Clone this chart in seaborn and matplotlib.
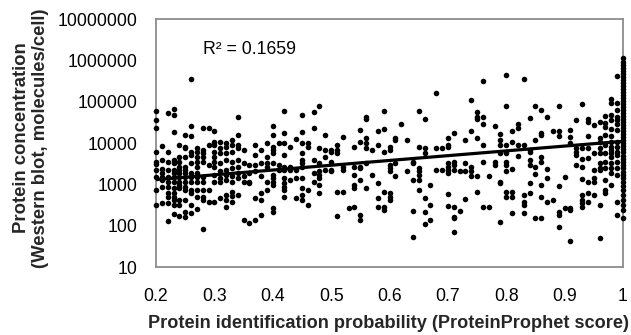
import matplotlib
matplotlib.use("Agg")
import matplotlib.pyplot as plt
import seaborn as sns
from matplotlib.ticker import FixedLocator, NullLocator

# ProteinProphet score (x) of each protein
score = [
 0.20,0.20,0.20,0.20,0.20,0.20,0.20,0.20,0.20,0.20,
 0.21,0.21,0.21,0.21,0.21,0.21,0.21,0.21,
 0.22,0.22,0.22,0.22,0.22,0.22,0.22,0.22,0.22,0.22,0.22,
 0.23,0.23,0.23,0.23,0.23,0.23,0.23,0.23,0.23,0.23,0.23,0.23,0.23,0.23,0.23,
 0.24,0.24,0.24,0.24,0.24,0.24,0.24,0.24,0.24,0.24,0.24,0.24,0.24,
 0.25,0.25,0.25,0.25,0.25,0.25,0.25,0.25,0.25,0.25,0.25,0.25,0.25,0.25,
 0.26,0.26,0.26,0.26,0.26,0.26,0.26,0.26,0.26,0.26,0.26,0.26,0.26,
 0.27,0.27,0.27,0.27,0.27,0.27,0.27,0.27,0.27,0.27,0.27,
 0.28,0.28,0.28,0.28,0.28,0.28,0.28,0.28,0.28,0.28,0.28,
 0.29,0.29,0.29,0.29,0.29,
 0.30,0.30,0.30,0.30,0.30,0.30,0.30,0.30,0.30,0.30,
 0.31,0.31,0.31,0.31,0.31,0.31,0.31,0.31,
 0.32,0.32,0.32,0.32,0.32,0.32,0.32,0.32,0.32,0.32,
 0.33,0.33,0.33,0.33,0.33,0.33,0.33,0.33,0.33,0.33,
 0.34,0.34,0.34,0.34,0.34,0.34,0.34,0.34,0.34,
 0.35,0.35,0.35,0.35,0.35,
 0.36,0.36,0.36,0.36,0.36,
 0.37,0.37,0.37,0.37,0.37,0.37,
 0.38,0.38,0.38,0.38,0.38,0.38,
 0.39,0.39,0.39,0.39,0.39,0.39,
 0.40,0.40,0.40,0.40,0.40,0.40,0.40,0.40,0.40,0.40,0.40,0.40,
 0.41,0.41,0.41,
 0.42,0.42,0.42,0.42,0.42,0.42,0.42,0.42,0.42,0.42,0.42,
 0.43,0.43,0.43,0.43,
 0.44,0.44,0.44,0.44,
 0.45,0.45,0.45,0.45,0.45,0.45,0.45,0.45,0.45,0.45,0.45,
 0.46,0.46,0.46,0.46,
 0.47,0.47,0.47,0.47,0.47,
 0.48,0.48,0.48,0.48,0.48,0.48,0.48,0.48,
 0.49,0.49,0.49,0.49,
 0.50,0.50,0.50,0.50,0.50,
 0.51,0.51,0.51,0.51,0.51,
 0.52,0.52,0.52,0.52,
 0.53,
 0.54,0.54,0.54,0.54,0.54,0.54,
 0.55,0.55,0.55,0.55,0.55,0.55,0.55,
 0.56,0.56,0.56,0.56,0.56,0.56,0.56,
 0.57,0.57,
 0.58,0.58,0.58,0.58,0.58,
 0.59,0.59,0.59,0.59,0.59,0.59,
 0.60,0.60,0.60,0.60,0.60,0.60,0.60,0.60,
 0.61,0.61,0.61,0.61,
 0.62,
 0.63,0.63,
 0.64,0.64,0.64,0.64,0.64,
 0.65,0.65,0.65,0.65,0.65,0.65,0.65,
 0.66,0.66,0.66,0.66,0.66,0.66,
 0.67,0.67,0.67,
 0.68,0.68,0.68,
 0.69,0.69,
 0.70,0.70,0.70,0.70,0.70,0.70,0.70,0.70,0.70,
 0.71,0.71,0.71,0.71,0.71,0.71,0.71,0.71,
 0.72,0.72,
 0.73,0.73,0.73,0.73,
 0.74,0.74,0.74,0.74,0.74,
 0.75,0.75,0.75,0.75,0.75,0.75,
 0.76,0.76,0.76,0.76,0.76,0.76,
 0.77,0.77,
 0.78,0.78,0.78,
 0.79,0.79,0.79,0.79,0.79,0.79,0.79,
 0.80,0.80,0.80,0.80,0.80,0.80,0.80,0.80,0.80,
 0.81,0.81,0.81,0.81,0.81,0.81,
 0.82,0.82,0.82,0.82,
 0.83,0.83,0.83,0.83,0.83,0.83,
 0.84,0.84,0.84,0.84,0.84,0.84,0.84,
 0.85,0.85,0.85,0.85,0.85,
 0.86,0.86,0.86,0.86,0.86,0.86,0.86,0.86,
 0.87,0.87,0.87,0.87,
 0.88,0.88,
 0.89,0.89,0.89,0.89,0.89,0.89,0.89,
 0.90,0.90,
 0.91,0.91,0.91,0.91,0.91,0.91,
 0.92,0.92,0.92,0.92,0.92,
 0.93,0.93,0.93,0.93,0.93,0.93,0.93,0.93,0.93,
 0.94,0.94,0.94,0.94,0.94,0.94,0.94,0.94,
 0.95,0.95,0.95,0.95,0.95,0.95,
 0.96,0.96,0.96,0.96,0.96,0.96,0.96,0.96,0.96,0.96,
 0.97,0.97,0.97,0.97,0.97,0.97,0.97,0.97,0.97,0.97,0.97,
 0.98,0.98,0.98,0.98,0.98,0.98,0.98,0.98,0.98,0.98,0.98,0.98,0.98,0.98,0.98,
 0.99,0.99,0.99,0.99,0.99,0.99,0.99,0.99,0.99,0.99,0.99,0.99,0.99,0.99,0.99,0.99,
 1.00,1.00,1.00,1.00,1.00,1.00,1.00,1.00,1.00,1.00,1.00,1.00,1.00,1.00,1.00,1.00,
 1.00,1.00,1.00,1.00,1.00,1.00,1.00,1.00,1.00,1.00,1.00,1.00,1.00,1.00,1.00,1.00,
 1.00,1.00,1.00,1.00,1.00,1.00,1.00,1.00,1.00,1.00,1.00,1.00,1.00,1.00,1.00,1.00,
]

# Western blot concentration (molecules/cell), same order as score
conc = [
 58000,36000,23000,5900,3500,3100,2200,1500,730,315,
 8500,3900,2400,1850,1500,1280,880,350,
 52000,6200,3500,2200,1500,1170,880,610,500,350,129,
 67000,48000,18000,3900,3200,2200,1850,1500,1170,810,610,500,420,315,192,
 9000,4700,3500,2600,2200,1850,1500,1170,980,810,420,315,170,
 16000,8200,7400,4700,2600,2200,1850,1500,1170,880,730,420,218,165,
 350000,26000,14500,6200,5200,3200,1850,1500,1170,730,610,315,200,
 7400,6200,4700,3500,2600,1850,1500,1170,730,500,260,
 23000,6700,5700,4700,3500,1500,1170,730,500,420,81,
 23000,9000,2900,730,380,
 20000,10800,9000,6200,4700,3500,2700,1700,1170,380,
 10800,7400,5600,3200,2050,1400,1170,460,
 10200,8200,5600,3900,2250,1700,1280,550,420,280,
 12000,9000,6200,3500,2450,1550,1170,660,525,380,
 43000,16000,9000,7400,3900,2700,1850,1400,550,
 6700,3200,1550,1170,138,
 2900,1850,1170,1070,115,
 9000,5200,2900,2050,460,138,
 6700,3200,1550,610,420,182,
 10000,4700,3200,2700,1170,730,
 26000,16000,8200,6700,5600,3200,1700,1400,1170,970,265,220,
 10000,2900,2250,
 60000,17300,10000,5200,2700,2250,1400,1070,880,730,500,
 8200,2700,2250,1280,
 12500,2250,1400,460,
 48000,18000,10000,5600,3900,3200,2700,1400,810,550,420,
 10000,8200,730,315,
 56000,23000,3900,1850,1170,
 80000,7400,3200,2050,1700,1400,970,610,
 16000,6700,4700,2250,
 6700,6200,3500,2250,2050,
 9000,6700,5600,660,172,
 14000,2700,2250,660,
 265,
 8200,2700,1700,970,810,290,
 21000,10800,2700,2450,1280,182,138,
 43000,38000,13000,10000,7400,3200,810,
 6700,1700,
 19000,9000,1070,460,290,
 60000,21500,6200,660,280,240,
 8200,6700,2900,2450,2050,610,500,420,
 13000,12000,3200,1550,
 29000,
 12000,2050,
 3500,3200,1280,230,52,
 60000,8200,2450,2050,1700,1280,730,
 38000,7400,5600,460,220,110,
 970,315,138,
 160000,7400,2250,
 7400,2250,
 13000,9000,8200,3200,2700,2250,1850,600,300,
 17300,3500,2900,2250,280,165,152,71,
 2050,230,
 12000,3200,2050,440,
 110000,19000,2700,2050,1550,
 56000,43000,38000,13000,1550,660,
 320000,43000,29000,9000,3400,280,
 1550,280,
 26000,3500,2900,
 16500,12000,9000,5600,1170,1070,125,
 450000,80000,9000,5600,3500,2900,2050,660,490,
 19500,10800,2350,660,490,200,
 29000,23000,9000,4900,
 350000,9000,550,380,315,200,
 41000,6700,6200,3900,2900,1070,610,
 80000,12000,2700,1780,152,
 63000,17300,16000,4700,3500,970,500,152,
 43000,2350,1400,380,
 19500,420,
 80000,19000,15000,910,220,182,95,
 1480,265,
 21000,14000,10000,265,240,43,
 36000,7400,6200,5200,2900,
 89000,7400,4050,2700,1320,550,420,350,280,
 38000,32000,15000,7400,4300,1170,630,380,
 27000,5600,2250,1400,1170,550,
 32000,13000,10800,7400,5600,3200,2450,2250,315,51,
 45000,30000,24500,16000,9000,5600,3500,2450,1280,730,610,
 117000,93000,48000,36000,22000,15000,10800,8200,6700,5600,4700,3200,2450,1850,970,
 420000,93000,63000,43000,36000,29000,21000,10800,8200,6200,5200,3500,2450,1700,380,182,
 1150000,910000,776000,660000,560000,470000,400000,340000,290000,240000,205000,175000,
 145000,124000,105000,89000,75000,63000,54000,46000,38000,32000,27500,23000,
 19500,16500,14000,12000,10000,8500,7200,6000,4900,4100,3450,2900,
 2500,2000,1700,1420,1150,910,730,550,420,315,240,155,
]

# exponential trendline (ends of the plotted line)
trend_score = [0.2, 1.0]
trend_conc = [1300, 11000]
r2_label = "R\u00b2 = 0.1659"

x_ticks = [0.2, 0.3, 0.4, 0.5, 0.6, 0.7, 0.8, 0.9, 1.0]
x_tick_labels = ["0.2", "0.3", "0.4", "0.5", "0.6", "0.7", "0.8", "0.9", "1"]
y_ticks = [10, 100, 1000, 10000, 100000, 1000000, 10000000]
y_tick_labels = ["10", "100", "1000", "10000", "100000", "1000000", "10000000"]

x_title = "Protein identification probability (ProteinProphet score)"
y_title = "Protein concentration\n(Western blot, molecules/cell)"

assert len(score) == len(conc)

sns.set_theme(style="white")
plt.rcParams["font.family"] = ["Liberation Sans", "DejaVu Sans"]

W, H = 631, 335
fig = plt.figure(figsize=(W / 100, H / 100), dpi=100)
ax = fig.add_axes([156 / W, 1 - 267 / H, 467 / W, 248 / H])

sns.scatterplot(x=score, y=conc, ax=ax, color="black", s=16, linewidth=0,
                clip_on=False, zorder=3)
sns.lineplot(x=trend_score, y=trend_conc, ax=ax, color="black", linewidth=2.3,
             zorder=4)

ax.set_yscale("log")
ax.set_xlim(0.2, 1.0)
ax.set_ylim(10, 1e7)
ax.xaxis.set_major_locator(FixedLocator(x_ticks))
ax.set_xticklabels(x_tick_labels)
ax.yaxis.set_major_locator(FixedLocator(y_ticks))
ax.set_yticklabels(y_tick_labels)
ax.yaxis.set_minor_locator(NullLocator())
ax.xaxis.set_minor_locator(NullLocator())
ax.grid(False)

grey = "#8c8c8c"
for sp in ax.spines.values():
    sp.set_color(grey)
    sp.set_linewidth(1.3)
ax.tick_params(axis="both", which="major", direction="out", length=5,
               width=1.2, color=grey, labelcolor="black", labelsize=12.7)
ax.tick_params(axis="y", pad=8)
ax.tick_params(axis="x", pad=10)
ax.set_xlabel("")
ax.set_ylabel("")

ax.text((203 - 156) / 467, (267 - 50) / 248, r2_label, transform=ax.transAxes,
        fontsize=12.7, ha="left", va="center", color="black")

fig.text(389 / W, 1 - 324 / H, x_title, ha="center", va="center",
         fontsize=13.1, fontweight="bold")
fig.text(31 / W, 1 - 138 / H, y_title, ha="center", va="center",
         rotation=90, fontsize=13.3, fontweight="bold", linespacing=1.2,
         multialignment="center")

fig.savefig("out.png", dpi=100, facecolor="white")
